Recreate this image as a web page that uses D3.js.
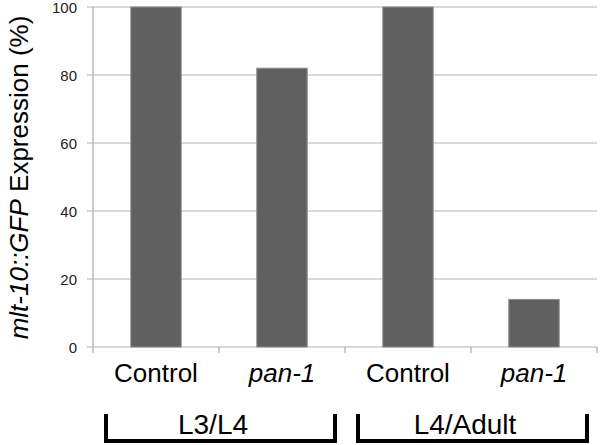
<!DOCTYPE html>
<html>
<head>
<meta charset="utf-8">
<script src="https://cdn.jsdelivr.net/npm/d3@7"></script>
<style>
  body { margin: 0; background: #fff; }
  text { font-family: "Liberation Sans", Arial, sans-serif; }
</style>
</head>
<body>
<svg id="chart" width="600" height="445"></svg>
<script>
// data
const categories = ['Control', 'pan-1', 'Control', 'pan-1'];
const italicCats = [false, true, false, true];
const values = [100, 82, 100, 14];
const yTicks = [0, 20, 40, 60, 80, 100];
const groups = [
  { label: 'L3/L4', from: 0, to: 1 },
  { label: 'L4/Adult', from: 2, to: 3 },
];

const margin = { left: 93, right: 3, top: 7, bottom: 98 };
const width = 600, height = 445;

const svg = d3.select('#chart');

const x = d3.scaleBand()
  .domain(d3.range(categories.length))
  .range([margin.left, width - margin.right])
  .paddingInner(0.6)
  .paddingOuter(0.3);

const y = d3.scaleLinear()
  .domain([0, 100])
  .range([height - margin.bottom, margin.top]);

const step = x.step();
const x0 = margin.left;

// gridlines
svg.append('g')
  .selectAll('line')
  .data(yTicks)
  .enter()
    .append('line')
    .attr('x1', x0 - 6)
    .attr('x2', width - margin.right)
    .attr('y1', d => y(d))
    .attr('y2', d => y(d))
    .attr('stroke', '#b4b4b4')
    .attr('stroke-width', 1.2);

// y axis line
svg.append('line')
  .attr('x1', x0).attr('x2', x0)
  .attr('y1', y(100)).attr('y2', y(0))
  .attr('stroke', '#a8a8a8')
  .attr('stroke-width', 1.2);

// category ticks on x axis
svg.append('g')
  .selectAll('line')
  .data(d3.range(categories.length + 1))
  .enter()
    .append('line')
    .attr('x1', i => x0 + i * step)
    .attr('x2', i => x0 + i * step)
    .attr('y1', y(0))
    .attr('y2', y(0) + 6)
    .attr('stroke', '#a8a8a8')
    .attr('stroke-width', 1.2);

// y tick labels
svg.append('g')
  .selectAll('text')
  .data(yTicks)
  .enter()
    .append('text')
    .attr('x', x0 - 16)
    .attr('y', d => y(d) + 1)
    .attr('dy', '0.35em')
    .attr('text-anchor', 'end')
    .style('font-size', '15px')
    .attr('fill', '#222')
    .text(d => d);

// bars
svg.append('g')
  .selectAll('rect')
  .data(values)
  .enter()
    .append('rect')
    .attr('x', (d, i) => x(i))
    .attr('y', d => y(d))
    .attr('width', x.bandwidth())
    .attr('height', d => y(0) - y(d))
    .attr('fill', '#606060')
    .attr('stroke', '#8c8c8c')
    .attr('stroke-width', 1);

// category labels
svg.append('g')
  .selectAll('text')
  .data(categories)
  .enter()
    .append('text')
    .attr('x', (d, i) => x(i) + x.bandwidth() / 2)
    .attr('y', 382)
    .attr('text-anchor', 'middle')
    .style('font-size', '26px')
    .style('font-style', (d, i) => (italicCats[i] ? 'italic' : 'normal'))
    .attr('fill', '#000')
    .text(d => d);

// group brackets
const bracketTop = 414;
const bracketBottom = 441;
const bracket = svg.append('g')
  .selectAll('g')
  .data(groups)
  .enter()
    .append('g');

bracket.append('path')
  .attr('d', (g) => {
    const left = x0 + g.from * step + 13;
    const right = x0 + (g.to + 1) * step - 10;
    return `M${left},${bracketTop}V${bracketBottom}H${right}V${bracketTop}`;
  })
  .attr('fill', 'none')
  .attr('stroke', '#000')
  .attr('stroke-width', 4);

bracket.append('text')
  .attr('x', g => x0 + (g.from + g.to + 1) / 2 * step - 6)
  .attr('y', 434)
  .attr('text-anchor', 'middle')
  .style('font-size', '28px')
  .attr('fill', '#000')
  .text(g => g.label);

// y axis title
const title = svg.append('text')
  .attr('transform', `translate(28,${(15 + 340) / 2}) rotate(-90)`)
  .attr('text-anchor', 'middle')
  .style('font-size', '26px')
  .attr('fill', '#000');
title.append('tspan').style('font-style', 'italic').text('mlt-10::GFP');
title.append('tspan').text(' Expression (%)');
</script>
</body>
</html>
